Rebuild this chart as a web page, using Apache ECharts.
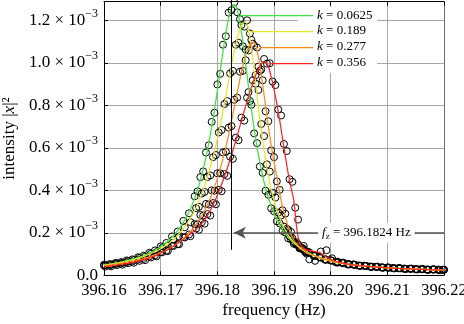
<!DOCTYPE html>
<html><head><meta charset="utf-8">
<script src="https://cdn.jsdelivr.net/npm/echarts@6/dist/echarts.min.js"></script>
<style>html,body{margin:0;padding:0;background:#fff}#c{width:464px;height:324px}</style>
</head><body><div id="c"></div>
<script>
// frequency (Hz) of fitted curves and of the k=0.0625 / k=0.277 measurements
const freq = [
396.160,396.161,396.162,396.163,396.164,396.165,396.166,396.167,396.168,396.169,396.170,396.171,396.172,396.173,396.174,396.175,
396.1760,396.1765,396.1770,396.1775,396.1780,396.1785,396.1790,396.1795,396.1800,396.1805,
396.1810,396.1815,396.1820,396.1825,396.1830,396.1835,396.1840,396.1845,396.1850,396.1855,
396.1860,396.1865,396.1870,396.1875,396.1880,396.1885,396.1890,396.1895,396.1900,396.1905,
396.1910,396.1915,396.1920,396.1925,396.1930,396.1935,396.1940,396.1945,396.1950,396.1955,
396.1960,
396.197,396.198,396.199,396.200,396.201,396.202,396.203,396.204,396.205,396.206,396.207,396.208,396.209,396.210,396.211,396.212,396.213,396.214,396.215,396.216,396.217,396.218,396.219,396.220];
// frequency (Hz) of the k=0.189 / k=0.356 measurements
const freqB = [
396.16025,396.16125,396.16225,396.16325,396.16425,396.16525,396.16625,396.16725,396.16825,396.16925,396.17025,396.17125,396.17225,396.17325,396.17425,396.17525,
396.17625,396.17675,396.17725,396.17775,396.17825,396.17875,396.17925,396.17975,396.18025,396.18075,
396.18125,396.18175,396.18225,396.18275,396.18325,396.18375,396.18425,396.18475,396.18525,396.18575,
396.18625,396.18675,396.18725,396.18775,396.18825,396.18875,396.18925,396.18975,396.19025,396.19075,
396.19125,396.19175,396.19225,396.19275,396.19325,396.19375,396.19425,396.19475,396.19525,396.19575,
396.19625,
396.19725,396.19825,396.19925,396.20025,396.20125,396.20225,396.20325,396.20425,396.20525,396.20625,396.20725,396.20825,396.20925,396.21025,396.21125,396.21225,396.21325,396.21425,396.21525,396.21625,396.21725,396.21825,396.21925,396.2198];

// intensity |x|^2 in units of 1e-3 : fitted curves
const fitK0625 = [
0.049,0.053,0.057,0.063,0.069,0.076,0.084,0.093,0.105,0.118,0.134,0.154,0.179,0.210,0.249,0.298,
0.362,0.402,0.447,0.498,0.557,0.623,0.697,0.780,0.869,0.962,
1.054,1.139,1.209,1.255,1.272,1.250,1.189,1.100,0.996,0.888,
0.784,0.689,0.604,0.531,0.467,0.412,0.366,0.326,0.292,0.262,
0.237,0.215,0.196,0.179,0.165,0.152,0.141,0.131,0.122,0.114,
0.107,
0.095,0.085,0.077,0.070,0.063,0.058,0.054,0.050,0.047,0.044,0.042,0.040,0.038,0.036,0.035,0.033,0.032,0.031,0.030,0.029,0.028,0.027,0.027,0.026];
const fitK189 = [
0.047,0.051,0.055,0.060,0.066,0.073,0.080,0.089,0.099,0.111,0.125,0.142,0.163,0.188,0.219,0.257,
0.304,0.334,0.368,0.404,0.442,0.485,0.532,0.585,0.643,0.706,
0.773,0.845,0.917,0.989,1.056,1.114,1.159,1.185,1.191,1.154,
1.073,0.965,0.848,0.735,0.633,0.544,0.469,0.405,0.352,0.307,
0.270,0.238,0.212,0.189,0.170,0.155,0.142,0.130,0.120,0.111,
0.104,
0.093,0.082,0.074,0.067,0.061,0.056,0.052,0.048,0.045,0.043,0.041,0.039,0.037,0.035,0.034,0.032,0.031,0.030,0.029,0.028,0.027,0.027,0.026,0.025];
const fitK277 = [
0.045,0.048,0.052,0.056,0.061,0.066,0.072,0.079,0.087,0.096,0.107,0.119,0.134,0.152,0.173,0.199,
0.231,0.249,0.270,0.292,0.318,0.347,0.379,0.415,0.455,0.500,
0.549,0.603,0.662,0.725,0.791,0.858,0.924,0.984,1.036,1.074,
1.094,1.095,1.058,0.988,0.898,0.799,0.703,0.613,0.534,0.465,
0.385,0.325,0.275,0.230,0.193,0.165,0.148,0.135,0.124,0.115,
0.107,
0.094,0.083,0.075,0.068,0.062,0.057,0.052,0.049,0.046,0.043,0.041,0.039,0.037,0.035,0.034,0.032,0.031,0.030,0.029,0.028,0.027,0.026,0.026,0.025];
const fitK356 = [
0.040,0.043,0.047,0.051,0.055,0.060,0.066,0.073,0.081,0.091,0.104,0.117,0.133,0.151,0.171,0.190,
0.210,0.222,0.236,0.252,0.270,0.292,0.318,0.346,0.377,0.410,
0.446,0.484,0.524,0.566,0.610,0.656,0.703,0.750,0.797,0.842,
0.884,0.923,0.956,0.984,1.002,1.006,0.983,0.935,0.875,0.808,
0.730,0.645,0.560,0.480,0.415,0.350,0.225,0.152,0.132,0.123,
0.118,
0.113,0.108,0.090,0.075,0.065,0.058,0.053,0.049,0.046,0.043,0.041,0.039,0.037,0.035,0.034,0.032,0.031,0.030,0.029,0.028,0.027,0.026,0.026,0.025];

// measured points (open circles), same units
const measK0625 = [
0.050,0.053,0.058,0.062,0.070,0.075,0.085,0.092,0.106,0.117,0.136,0.152,0.183,0.206,0.256,0.292,
0.372,0.395,0.462,0.489,0.578,0.612,0.722,0.765,0.898,0.948,
1.085,1.125,1.236,1.248,1.284,1.238,1.205,1.078,1.012,0.862,
0.802,0.668,0.622,0.512,0.482,0.398,0.379,0.315,0.301,0.254,
0.244,0.209,0.201,0.174,0.169,0.148,0.144,0.128,0.124,0.112,
0.108,
0.094,0.086,0.076,0.071,0.062,0.059,0.053,0.051,0.046,0.045,0.041,0.040,0.038,0.037,0.034,0.034,0.032,0.031,0.030,0.029,0.028,0.028,0.027,0.026];
const measK189 = [
0.048,0.050,0.056,0.059,0.067,0.072,0.082,0.088,0.101,0.109,0.128,0.139,0.168,0.183,0.226,0.250,
0.316,0.322,0.385,0.392,0.462,0.470,0.556,0.566,0.672,0.684,
0.806,0.820,0.950,0.962,1.085,1.094,1.178,1.170,1.200,1.138,
1.090,0.942,0.872,0.712,0.655,0.522,0.488,0.388,0.366,0.295,
0.281,0.229,0.219,0.183,0.175,0.150,0.146,0.126,0.123,0.108,
0.106,
0.092,0.083,0.073,0.068,0.060,0.057,0.051,0.049,0.044,0.044,0.040,0.040,0.036,0.036,0.033,0.033,0.030,0.031,0.028,0.029,0.026,0.028,0.025,0.026];
const measK277 = [
0.046,0.047,0.053,0.055,0.062,0.065,0.074,0.077,0.089,0.094,0.110,0.116,0.139,0.147,0.180,0.192,
0.241,0.240,0.284,0.281,0.336,0.333,0.400,0.398,0.480,0.480,
0.578,0.582,0.695,0.702,0.826,0.836,0.958,0.962,1.062,1.058,
1.108,1.080,1.072,0.962,0.918,0.772,0.725,0.588,0.556,0.442,
0.402,0.306,0.290,0.215,0.204,0.156,0.155,0.128,0.129,0.110,
0.111,
0.091,0.086,0.073,0.070,0.060,0.059,0.051,0.050,0.045,0.044,0.040,0.040,0.036,0.036,0.033,0.033,0.030,0.031,0.028,0.029,0.026,0.027,0.025,0.026];
const measK356 = [
0.041,0.042,0.048,0.050,0.057,0.059,0.068,0.071,0.084,0.089,0.108,0.114,0.138,0.146,0.178,0.184,
0.220,0.214,0.250,0.243,0.288,0.281,0.340,0.334,0.402,0.396,
0.476,0.468,0.558,0.548,0.648,0.636,0.742,0.728,0.836,0.820,
0.918,0.902,0.982,0.968,1.018,0.996,0.998,0.912,0.895,0.780,
0.752,0.618,0.585,0.452,0.440,0.318,0.262,0.128,0.138,0.102,
0.075,
0.068,0.112,0.118,0.080,0.064,0.059,0.052,0.050,0.045,0.044,0.040,0.040,0.036,0.036,0.033,0.033,0.030,0.031,0.028,0.029,0.026,0.027,0.025,0.026];

const kValues = ['0.0625', '0.189', '0.277', '0.356'];
const lineColors = ['#3fe33f', '#e6e62a', '#ff8a1c', '#ff2626'];
// legend annotation lines (data coords)
const legendLevel = [1.2216, 1.1496, 1.0744, 0.999];
const legendStart = [396.1841, 396.1858, 396.1875, 396.1893];
const legendEnd = 396.1969;
const legendBox = [[396.1942, 0.953], [396.2082, 1.2626]];
// f_z marker
const fz = 396.1824;
const fzLineRange = [0.12, 1.2875];
const arrowLevel = 0.2;
const arrowFrom = 396.22, arrowTo = 396.1829;
const fzLabelAt = 396.2063;

const SERIF = "'Liberation Serif', 'Times New Roman', serif";
const fits = [fitK0625, fitK189, fitK277, fitK356];
const meas = [measK0625, measK189, measK277, measK356];
const measFreq = [freq, freqB, freq, freqB];
const pairs = (fs, vals) => fs.map((f, j) => [f, vals[j]]);

const series = [];
meas.forEach((m, i) => {
  const s = {
    type: 'scatter', data: pairs(measFreq[i], m), symbol: 'circle', symbolSize: 7, z: 2, silent: true,
    itemStyle: { color: 'none', borderColor: '#000', borderWidth: 1, opacity: 1 }
  };
  if (i === 0) {
    s.markArea = { silent: true, z: 1, itemStyle: { color: '#ffffff', opacity: 1, borderWidth: 0 },
      emphasis: { disabled: true }, label: { show: false },
      data: [[{ coord: legendBox[0] }, { coord: legendBox[1] }]] };
  }
  series.push(s);
});
fits.forEach((fv, i) => {
  series.push({
    type: 'line', data: pairs(freq, fv), showSymbol: false, smooth: 0.3, z: 3, silent: true,
    color: lineColors[i],
    lineStyle: { color: lineColors[i], width: 1.25 },
    markLine: {
      silent: true, symbol: ['none', 'none'], animation: false, z: 6,
      lineStyle: { color: lineColors[i], width: 1.25, type: 'solid', opacity: 1 },
      itemStyle: { color: lineColors[i] },
      emphasis: { disabled: true },
      label: { show: true, position: 'end', distance: 4, color: '#000', fontFamily: SERIF, fontSize: 13,
        formatter: '{i|k} = ' + kValues[i],
        rich: { i: { fontStyle: 'italic', fontFamily: SERIF, fontSize: 13, color: '#000' } } },
      data: [[{ coord: [legendStart[i], legendLevel[i]], lineStyle: { color: lineColors[i], width: 1.25, type: 'solid' } },
              { coord: [legendEnd, legendLevel[i]] }]]
    }
  });
});
// vertical f_z line
series.push({
  type: 'line', data: [], silent: true,
  markLine: { silent: true, symbol: ['none', 'none'], animation: false,
    lineStyle: { color: '#000', width: 1, type: 'solid' }, label: { show: false },
    data: [[{ coord: [fz, fzLineRange[0]] }, { coord: [fz, fzLineRange[1]] }]] }
});
// horizontal arrow
series.push({
  type: 'line', data: [], silent: true,
  markLine: { silent: true, animation: false, symbol: ['none', 'arrow'], symbolSize: 11,
    lineStyle: { color: '#555', width: 1.6, type: 'solid' }, label: { show: false },
    data: [[{ coord: [arrowFrom, arrowLevel], symbol: 'none' },
            { coord: [arrowTo, arrowLevel], symbol: 'arrow', symbolSize: [9, 12], itemStyle: { color: '#333' } }]] }
});
// f_z label
series.push({
  type: 'line', data: [], silent: true, z: 10,
  markPoint: { silent: true, animation: false, symbol: 'rect', symbolSize: 0, z: 10,
    label: { show: true, position: 'inside', color: '#000', fontFamily: SERIF, fontSize: 13,
      backgroundColor: '#fff', padding: [2, 4],
      formatter: '{i|f}{s|z} = 396.1824 Hz',
      rich: { i: { fontStyle: 'italic', fontFamily: SERIF, fontSize: 13, lineHeight: 16, color: '#000' },
              s: { fontFamily: SERIF, fontSize: 9, lineHeight: 9, verticalAlign: 'bottom', color: '#000' } } },
    data: [{ coord: [fzLabelAt, arrowLevel] }] }
});

const chart = echarts.init(document.getElementById('c'), null, { renderer: 'canvas', width: 464, height: 324 });
chart.setOption({
  animation: false,
  backgroundColor: '#fff',
  grid: { left: 104, right: 20, top: 1.7, bottom: 48.7, containLabel: false, outerBoundsMode: 'none' },
  xAxis: [{
    type: 'value', min: 396.16, max: 396.22, interval: 0.01, position: 'bottom',
    axisLine: { show: true, onZero: false, lineStyle: { color: '#000', width: 1 } },
    axisTick: { show: true, inside: true, length: 4, lineStyle: { color: '#000' } },
    axisLabel: { show: true, margin: 7, color: '#000', fontFamily: SERIF, fontSize: 16.5,
      formatter: (v) => v.toFixed(2) },
    splitLine: { show: true, lineStyle: { color: '#a8a8a8', width: 1 } },
    name: 'frequency (Hz)', nameLocation: 'middle', nameGap: 27, nameMoveOverlap: false,
    nameTextStyle: { color: '#000', fontFamily: SERIF, fontSize: 17 }
  }, {
    type: 'value', min: 396.16, max: 396.22, interval: 0.01, position: 'top',
    axisLine: { show: true, onZero: false, lineStyle: { color: '#000', width: 1 } },
    axisTick: { show: true, inside: true, length: 4, lineStyle: { color: '#000' } },
    axisLabel: { show: false }, splitLine: { show: false }
  }],
  yAxis: [{
    type: 'value', min: 0, max: 1.2875, interval: 0.2,
    axisLine: { show: true, onZero: false, lineStyle: { color: '#000', width: 1 } },
    axisTick: { show: true, inside: true, length: 4, lineStyle: { color: '#000' } },
    axisLabel: { show: true, margin: 6, showMaxLabel: false,
      formatter: (v) => {
        if (Math.abs(v * 5 - Math.round(v * 5)) > 1e-6) return '';
        if (Math.abs(v) < 1e-9) return '{a|0.0}';
        return '{a|' + v.toFixed(1) + ' × 10}{s|−3}';
      },
      rich: { a: { fontFamily: SERIF, fontSize: 17, lineHeight: 25, color: '#000' },
              s: { fontFamily: SERIF, fontSize: 12, lineHeight: 12, verticalAlign: 'top', color: '#000' } } },
    splitLine: { show: true, lineStyle: { color: '#a8a8a8', width: 1 } },
    name: 'intensity |{i|x}|²', nameLocation: 'middle', nameGap: 86, nameRotate: 90, nameMoveOverlap: false,
    nameTextStyle: { color: '#000', fontFamily: SERIF, fontSize: 17,
      rich: { i: { fontStyle: 'italic', fontFamily: SERIF, fontSize: 17, color: '#000' } } }
  }, {
    type: 'value', min: 0, max: 1.2875, interval: 0.2, position: 'right',
    axisLine: { show: true, onZero: false, lineStyle: { color: '#707070', width: 1 } },
    axisTick: { show: false }, axisLabel: { show: false }, splitLine: { show: false }
  }],
  series: series
});
</script>
</body></html>
